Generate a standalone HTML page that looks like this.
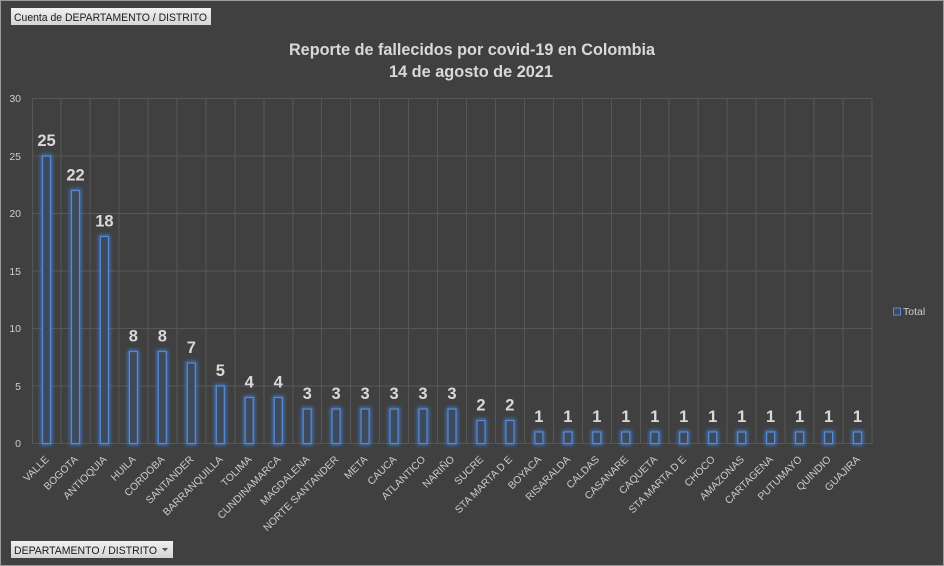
<!DOCTYPE html>
<html><head><meta charset="utf-8"><style>
html,body{margin:0;padding:0;background:#404040;}
svg{display:block;}
</style></head><body>
<svg width="944" height="566" viewBox="0 0 944 566" xmlns="http://www.w3.org/2000/svg" font-family="'Liberation Sans', sans-serif">
<defs>
<filter id="glow" x="-80%" y="-20%" width="260%" height="140%">
<feGaussianBlur stdDeviation="1.8"/>
</filter>
<linearGradient id="btn" x1="0" y1="0" x2="0" y2="1">
<stop offset="0" stop-color="#f0f0f0"/><stop offset="1" stop-color="#d4d4d4"/>
</linearGradient>
</defs>
<rect x="0" y="0" width="944" height="566" fill="#404040"/>
<rect x="0.5" y="0.5" width="943" height="565" fill="none" stroke="#9a9a9a" stroke-width="1"/>

<!-- buttons -->
<rect x="11" y="8" width="200" height="17" fill="url(#btn)"/>
<text x="14" y="21" font-size="11" fill="#1a1a1a" textLength="193" lengthAdjust="spacingAndGlyphs">Cuenta de DEPARTAMENTO  / DISTRITO</text>
<rect x="11" y="541" width="162" height="17" fill="url(#btn)"/>
<text x="14" y="554" font-size="11" fill="#1a1a1a" textLength="143" lengthAdjust="spacingAndGlyphs">DEPARTAMENTO  / DISTRITO</text>
<path d="M162 548 L168 548 L165 551.5 Z" fill="#555"/>

<!-- title -->
<text x="289" y="55" font-size="17" font-weight="bold" fill="#d9d9d9" textLength="366" lengthAdjust="spacingAndGlyphs">Reporte de fallecidos por covid-19 en Colombia</text>
<text x="389" y="77" font-size="17" font-weight="bold" fill="#d9d9d9" textLength="164" lengthAdjust="spacingAndGlyphs">14 de agosto de 2021</text>

<!-- gridlines -->
<g stroke="#575757" stroke-width="1">
<line x1="32" y1="98.5" x2="872" y2="98.5"/>
<line x1="32" y1="156" x2="872" y2="156"/>
<line x1="32" y1="213.5" x2="872" y2="213.5"/>
<line x1="32" y1="271" x2="872" y2="271"/>
<line x1="32" y1="328.5" x2="872" y2="328.5"/>
<line x1="32" y1="386" x2="872" y2="386"/>
<line x1="32" y1="443.5" x2="872" y2="443.5"/>
<line x1="32.5" y1="98" x2="32.5" y2="444"/>
<line x1="61" y1="98" x2="61" y2="444"/>
<line x1="90" y1="98" x2="90" y2="444"/>
<line x1="119" y1="98" x2="119" y2="444"/>
<line x1="148" y1="98" x2="148" y2="444"/>
<line x1="177" y1="98" x2="177" y2="444"/>
<line x1="206" y1="98" x2="206" y2="444"/>
<line x1="235" y1="98" x2="235" y2="444"/>
<line x1="264" y1="98" x2="264" y2="444"/>
<line x1="293" y1="98" x2="293" y2="444"/>
<line x1="321.5" y1="98" x2="321.5" y2="444"/>
<line x1="350.5" y1="98" x2="350.5" y2="444"/>
<line x1="379.5" y1="98" x2="379.5" y2="444"/>
<line x1="408.5" y1="98" x2="408.5" y2="444"/>
<line x1="437.5" y1="98" x2="437.5" y2="444"/>
<line x1="466.5" y1="98" x2="466.5" y2="444"/>
<line x1="495.5" y1="98" x2="495.5" y2="444"/>
<line x1="524.5" y1="98" x2="524.5" y2="444"/>
<line x1="553.5" y1="98" x2="553.5" y2="444"/>
<line x1="582.5" y1="98" x2="582.5" y2="444"/>
<line x1="611.5" y1="98" x2="611.5" y2="444"/>
<line x1="640.5" y1="98" x2="640.5" y2="444"/>
<line x1="669" y1="98" x2="669" y2="444"/>
<line x1="698" y1="98" x2="698" y2="444"/>
<line x1="727" y1="98" x2="727" y2="444"/>
<line x1="756" y1="98" x2="756" y2="444"/>
<line x1="785" y1="98" x2="785" y2="444"/>
<line x1="814" y1="98" x2="814" y2="444"/>
<line x1="843" y1="98" x2="843" y2="444"/>
<line x1="872" y1="98" x2="872" y2="444"/>
</g>

<!-- y labels -->
<g font-size="10.5" fill="#cfcfcf" text-anchor="end">
<text x="21" y="102">30</text>
<text x="21" y="160">25</text>
<text x="21" y="217">20</text>
<text x="21" y="275">15</text>
<text x="21" y="332">10</text>
<text x="21" y="390">5</text>
<text x="21" y="447">0</text>
</g>

<!-- bar glow -->
<g fill="none" stroke="#3f7fd8" stroke-width="3.5" opacity="0.85" filter="url(#glow)">
<rect x="42.5" y="156" width="8" height="287.5"/>
<rect x="71.5" y="190.5" width="8" height="253"/>
<rect x="100.4" y="236.5" width="8" height="207"/>
<rect x="129.4" y="351.5" width="8" height="92"/>
<rect x="158.3" y="351.5" width="8" height="92"/>
<rect x="187.3" y="363" width="8" height="80.5"/>
<rect x="216.3" y="386" width="8" height="57.5"/>
<rect x="245.2" y="397.5" width="8" height="46"/>
<rect x="274.2" y="397.5" width="8" height="46"/>
<rect x="303.2" y="409" width="8" height="34.5"/>
<rect x="332.1" y="409" width="8" height="34.5"/>
<rect x="361.1" y="409" width="8" height="34.5"/>
<rect x="390.1" y="409" width="8" height="34.5"/>
<rect x="419" y="409" width="8" height="34.5"/>
<rect x="448" y="409" width="8" height="34.5"/>
<rect x="477" y="420.5" width="8" height="23"/>
<rect x="505.9" y="420.5" width="8" height="23"/>
<rect x="534.9" y="432" width="8" height="11.5"/>
<rect x="563.9" y="432" width="8" height="11.5"/>
<rect x="592.8" y="432" width="8" height="11.5"/>
<rect x="621.8" y="432" width="8" height="11.5"/>
<rect x="650.8" y="432" width="8" height="11.5"/>
<rect x="679.7" y="432" width="8" height="11.5"/>
<rect x="708.7" y="432" width="8" height="11.5"/>
<rect x="737.7" y="432" width="8" height="11.5"/>
<rect x="766.6" y="432" width="8" height="11.5"/>
<rect x="795.6" y="432" width="8" height="11.5"/>
<rect x="824.6" y="432" width="8" height="11.5"/>
<rect x="853.5" y="432" width="8" height="11.5"/>
</g>
<!-- bars -->
<g fill="#3d4a5c" stroke="#5a8ad0" stroke-width="1.2">
<rect x="42.5" y="156" width="8" height="287.5"/>
<rect x="71.5" y="190.5" width="8" height="253"/>
<rect x="100.4" y="236.5" width="8" height="207"/>
<rect x="129.4" y="351.5" width="8" height="92"/>
<rect x="158.3" y="351.5" width="8" height="92"/>
<rect x="187.3" y="363" width="8" height="80.5"/>
<rect x="216.3" y="386" width="8" height="57.5"/>
<rect x="245.2" y="397.5" width="8" height="46"/>
<rect x="274.2" y="397.5" width="8" height="46"/>
<rect x="303.2" y="409" width="8" height="34.5"/>
<rect x="332.1" y="409" width="8" height="34.5"/>
<rect x="361.1" y="409" width="8" height="34.5"/>
<rect x="390.1" y="409" width="8" height="34.5"/>
<rect x="419" y="409" width="8" height="34.5"/>
<rect x="448" y="409" width="8" height="34.5"/>
<rect x="477" y="420.5" width="8" height="23"/>
<rect x="505.9" y="420.5" width="8" height="23"/>
<rect x="534.9" y="432" width="8" height="11.5"/>
<rect x="563.9" y="432" width="8" height="11.5"/>
<rect x="592.8" y="432" width="8" height="11.5"/>
<rect x="621.8" y="432" width="8" height="11.5"/>
<rect x="650.8" y="432" width="8" height="11.5"/>
<rect x="679.7" y="432" width="8" height="11.5"/>
<rect x="708.7" y="432" width="8" height="11.5"/>
<rect x="737.7" y="432" width="8" height="11.5"/>
<rect x="766.6" y="432" width="8" height="11.5"/>
<rect x="795.6" y="432" width="8" height="11.5"/>
<rect x="824.6" y="432" width="8" height="11.5"/>
<rect x="853.5" y="432" width="8" height="11.5"/>
</g>

<!-- data labels -->
<g font-size="16.5" font-weight="bold" fill="#d9d9d9" text-anchor="middle">
<text x="46.5" y="146">25</text>
<text x="75.5" y="180.5">22</text>
<text x="104.4" y="226.5">18</text>
<text x="133.4" y="341.5">8</text>
<text x="162.3" y="341.5">8</text>
<text x="191.3" y="353">7</text>
<text x="220.3" y="376">5</text>
<text x="249.2" y="387.5">4</text>
<text x="278.2" y="387.5">4</text>
<text x="307.2" y="399">3</text>
<text x="336.1" y="399">3</text>
<text x="365.1" y="399">3</text>
<text x="394.1" y="399">3</text>
<text x="423" y="399">3</text>
<text x="452" y="399">3</text>
<text x="481" y="410.5">2</text>
<text x="509.9" y="410.5">2</text>
<text x="538.9" y="422">1</text>
<text x="567.9" y="422">1</text>
<text x="596.8" y="422">1</text>
<text x="625.8" y="422">1</text>
<text x="654.8" y="422">1</text>
<text x="683.7" y="422">1</text>
<text x="712.7" y="422">1</text>
<text x="741.7" y="422">1</text>
<text x="770.6" y="422">1</text>
<text x="799.6" y="422">1</text>
<text x="828.6" y="422">1</text>
<text x="857.5" y="422">1</text>
</g>

<!-- category labels -->
<g font-size="10.3" fill="#cccccc" text-anchor="end">
<text transform="translate(49.5,460) rotate(-45)">VALLE</text>
<text transform="translate(78.5,460) rotate(-45)">BOGOTA</text>
<text transform="translate(107.4,460) rotate(-45)">ANTIOQUIA</text>
<text transform="translate(136.4,460) rotate(-45)">HUILA</text>
<text transform="translate(165.3,460) rotate(-45)">CORDOBA</text>
<text transform="translate(194.3,460) rotate(-45)">SANTANDER</text>
<text transform="translate(223.3,460) rotate(-45)">BARRANQUILLA</text>
<text transform="translate(252.2,460) rotate(-45)">TOLIMA</text>
<text transform="translate(281.2,460) rotate(-45)">CUNDINAMARCA</text>
<text transform="translate(310.2,460) rotate(-45)">MAGDALENA</text>
<text transform="translate(339.1,460) rotate(-45)">NORTE SANTANDER</text>
<text transform="translate(368.1,460) rotate(-45)">META</text>
<text transform="translate(397.1,460) rotate(-45)">CAUCA</text>
<text transform="translate(426,460) rotate(-45)">ATLANTICO</text>
<text transform="translate(455,460) rotate(-45)">NARIÑO</text>
<text transform="translate(484,460) rotate(-45)">SUCRE</text>
<text transform="translate(512.9,460) rotate(-45)">STA MARTA D E</text>
<text transform="translate(541.9,460) rotate(-45)">BOYACA</text>
<text transform="translate(570.9,460) rotate(-45)">RISARALDA</text>
<text transform="translate(599.8,460) rotate(-45)">CALDAS</text>
<text transform="translate(628.8,460) rotate(-45)">CASANARE</text>
<text transform="translate(657.8,460) rotate(-45)">CAQUETA</text>
<text transform="translate(686.7,460) rotate(-45)">STA MARTA D E</text>
<text transform="translate(715.7,460) rotate(-45)">CHOCO</text>
<text transform="translate(744.7,460) rotate(-45)">AMAZONAS</text>
<text transform="translate(773.6,460) rotate(-45)">CARTAGENA</text>
<text transform="translate(802.6,460) rotate(-45)">PUTUMAYO</text>
<text transform="translate(831.6,460) rotate(-45)">QUINDIO</text>
<text transform="translate(860.5,460) rotate(-45)">GUAJIRA</text>
</g>

<!-- legend -->
<rect x="893.5" y="308" width="7" height="7" fill="#3d4a5c" stroke="#5a8ad0" stroke-width="1"/>
<text x="903" y="315" font-size="10.5" fill="#cfcfcf">Total</text>
</svg>
</body></html>
